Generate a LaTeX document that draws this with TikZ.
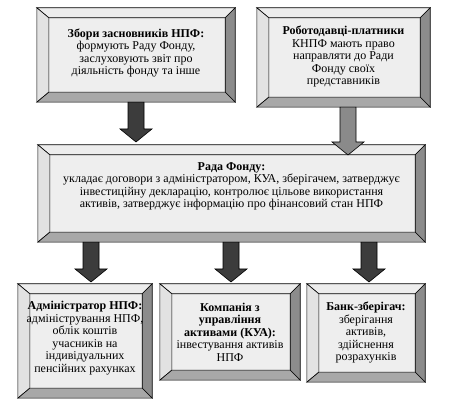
\documentclass[tikz,border=0pt]{standalone}
\usepackage{fontspec}
\setmainfont{Liberation Serif}
\usetikzlibrary{calc}
\definecolor{bevtop}{HTML}{EDEDED}
\definecolor{bevleft}{HTML}{E2E2E2}
\definecolor{bevright}{HTML}{8C8C8C}
\definecolor{bevbottom}{HTML}{A8A8A8}
\definecolor{bevface}{HTML}{EEEEEE}
\definecolor{darkarrow}{HTML}{3C3C3C}
\definecolor{grayarrow}{HTML}{8A8A8A}
\tikzset{
  boxframe/.style={inner sep=0pt, draw=none},
  boxtext/.style={inner sep=0pt, align=center, font=\fontsize{12}{12.5}\selectfont},
  faceline/.style={draw=black, line width=0.6pt, line join=miter},
  darr/.style={fill=darkarrow, draw=black, line width=0.6pt},
  garr/.style={fill=grayarrow, draw=black, line width=0.6pt},
}
\newcommand\bevelfaces[1]{%
  \path (#1.north west) coordinate (#1-a) (#1.north east) coordinate (#1-b)
        (#1.south east) coordinate (#1-c) (#1.south west) coordinate (#1-d);
  \path ($(#1-a)+(12,10)$) coordinate (#1-ia) ($(#1-b)+(-10,10)$) coordinate (#1-ib)
        ($(#1-c)+(-10,-10)$) coordinate (#1-ic) ($(#1-d)+(12,-10)$) coordinate (#1-id);
  \fill[bevface] (#1-ia) rectangle (#1-ic);
  \filldraw[faceline, fill=bevtop] (#1-a) -- (#1-b) -- (#1-ib) -- (#1-ia) -- cycle;
  \filldraw[faceline, fill=bevleft] (#1-a) -- (#1-ia) -- (#1-id) -- (#1-d) -- cycle;
  \filldraw[faceline, fill=bevright] (#1-b) -- (#1-c) -- (#1-ic) -- (#1-ib) -- cycle;
  \filldraw[faceline, fill=bevbottom] (#1-d) -- (#1-id) -- (#1-ic) -- (#1-c) -- cycle;}
\newcommand\blockarrow[3]{%
  \draw[#1] let \p1=(#2), \p2=(#3) in
    (\x2-8pt,\y1) -- (\x2-8pt,\y2+13pt) -- (\x2-16pt,\y2+13pt) -- (\x2,\y2)
    -- (\x2+16pt,\y2+13pt) -- (\x2+8pt,\y2+13pt) -- (\x2+8pt,\y1) -- cycle;}
\begin{document}
\begin{tikzpicture}[x=1pt,y=-1pt]
\fill[white] (0,0) rectangle (459,403);
\useasboundingbox (0,0) rectangle (459,403);
% boxes
\node[boxframe, minimum width=198pt, minimum height=94pt] (box1) at (136,55) {};
\node[boxframe, minimum width=173pt, minimum height=99pt] (box2) at (343.5,57.5) {};
\node[boxframe, minimum width=387pt, minimum height=97pt] (rada) at (231.5,193.5) {};
\node[boxframe, minimum width=134pt, minimum height=114pt] (boxA) at (85,341) {};
\node[boxframe, minimum width=140pt, minimum height=96pt] (boxK) at (230,332) {};
\node[boxframe, minimum width=118pt, minimum height=98pt] (boxB) at (366,333) {};
\bevelfaces{box1}\bevelfaces{box2}\bevelfaces{rada}
\bevelfaces{boxA}\bevelfaces{boxK}\bevelfaces{boxB}
% texts
\node[boxtext] (t1) at ($(box1.center)+(0,-2)$) {\textbf{Збори засновників НПФ:}\\формують Раду Фонду,\\заслуховують звіт про\\діяльність фонду та інше};
\node[boxtext] (t2) at ($(box2.center)+(0,-1)$) {\textbf{Роботодавці-платники}\\КНПФ мають право\\направляти до Ради\\Фонду своїх\\представників};
\node[boxtext] (tr) at ($(rada.center)+(0,-7)$) {\textbf{Рада Фонду:}\\укладає договори з адміністратором, КУА, зберігачем, затверджує\\інвестиційну декларацію, контролює цільове використання\\активів, затверджує інформацію про фінансовий стан НПФ};
\node[boxtext] (tA) at ($(boxA.center)+(0,-3)$) {\textbf{Адміністратор НПФ:}\\адміністрування НПФ,\\облік коштів\\учасників на\\індивідуальних\\пенсійних рахунках};
\node[boxtext] (tK) at (boxK.center) {\textbf{Компанія з}\\\textbf{управління}\\\textbf{активами (КУА):}\\інвестування активів\\НПФ};
\node[boxtext] (tB) at (boxB.center) {\textbf{Банк-зберігач:}\\зберігання\\активів,\\здійснення\\розрахунків};
% arrows
\coordinate (tip1) at (136,142);
\coordinate (tip2) at (348,155);
\coordinate (tipA) at (91,282);
\coordinate (tipK) at (231,282);
\coordinate (tipB) at (369,282);
\blockarrow{darr}{tip1 |- box1.south}{tip1}
\blockarrow{garr}{tip2 |- box2.south}{tip2}
\blockarrow{darr}{tipA |- rada.south}{tipA}
\blockarrow{darr}{tipK |- rada.south}{tipK}
\blockarrow{darr}{tipB |- rada.south}{tipB}
\end{tikzpicture}
\end{document}
